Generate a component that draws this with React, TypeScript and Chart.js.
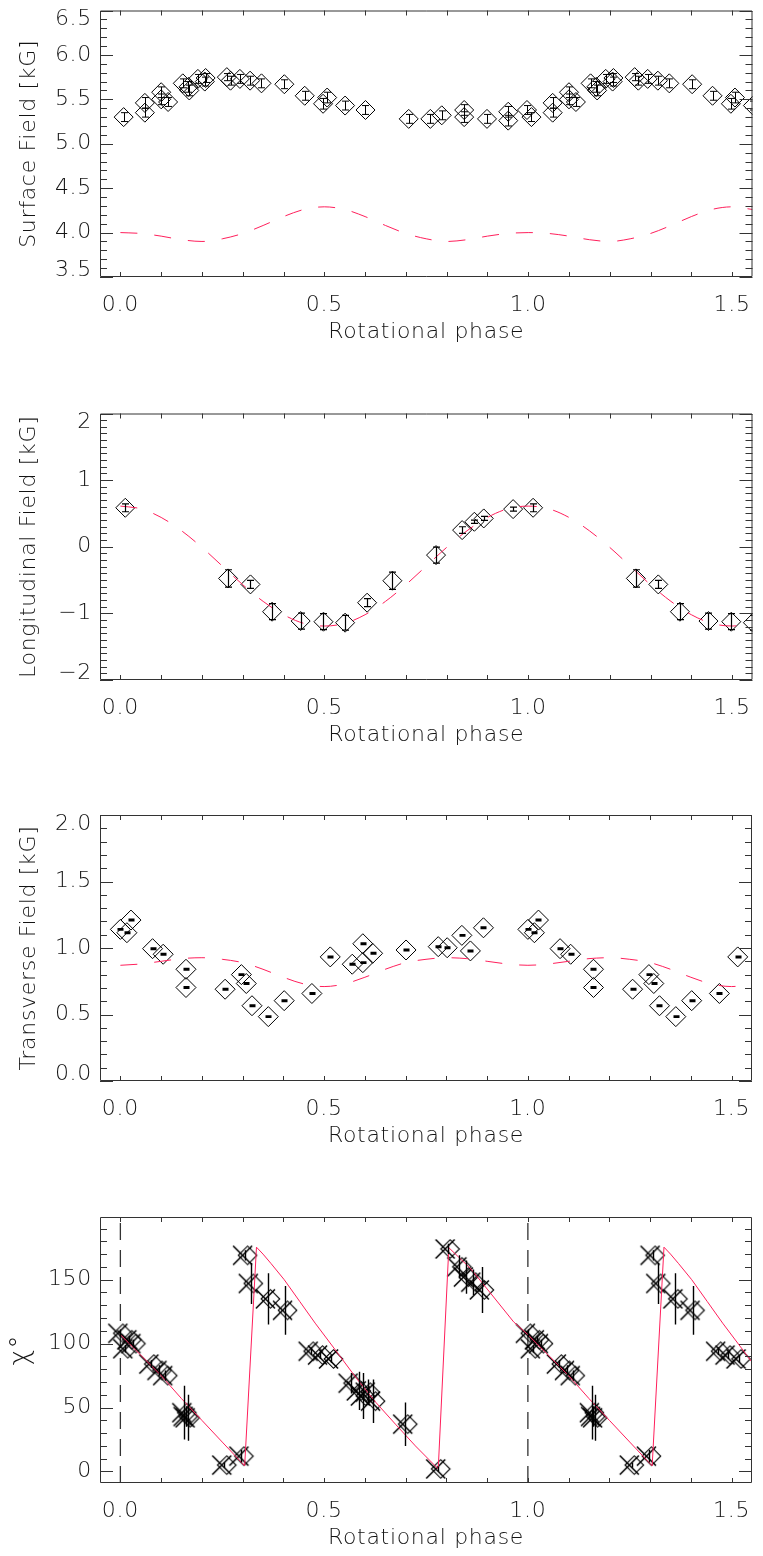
import React, { useEffect, useRef } from "react";
import { Chart, registerables } from "chart.js";

Chart.register(...registerables);

// ---------- style constants ----------
const FONT_FAMILY = "'DejaVu Sans', 'Liberation Sans', sans-serif";
const FONT_WEIGHT = "200";
const TEXT_COLOR = "#141414";
const AXIS_COLOR = "#333333";
const MODEL_COLOR = "#ff1f5b";
const LETTER_SPACING = "0.7px";
const CANVAS_W = 763;
const CANVAS_H = 345;
const PLOT_TOP_PAD = 9;
const Y_AXIS_W = 100;
const X_AXIS_H = 68;
const PANEL_TOPS = [0, 403, 804, 1206];

// ---------- x axis ----------
const PHASE_MIN = -0.05;
const PHASE_MAX = 1.55;
const PHASE_KEEP_MARGIN = 0.01;
const phaseTicks = [0.0, 0.5, 1.0, 1.5];
const phaseShifts = [0, 1];

// ---------- panel 1: surface field ----------
const surfPhase = [0.008, 0.060, 0.060, 0.100, 0.100, 0.117, 0.153, 0.167, 0.169, 0.190, 0.207, 0.209, 0.261, 0.270, 0.293, 0.318, 0.346, 0.402, 0.452, 0.497, 0.507, 0.551, 0.601, 0.707, 0.760, 0.788, 0.843, 0.843, 0.899, 0.951, 0.951, 0.997];
const surfField = [5.30, 5.46, 5.35, 5.58, 5.50, 5.47, 5.68, 5.64, 5.60, 5.73, 5.70, 5.74, 5.75, 5.71, 5.73, 5.71, 5.68, 5.67, 5.54, 5.45, 5.52, 5.43, 5.38, 5.28, 5.28, 5.32, 5.38, 5.30, 5.28, 5.36, 5.26, 5.38];
const surfErr = [0.05, 0.06, 0.05, 0.06, 0.06, 0.05, 0.05, 0.06, 0.06, 0.05, 0.05, 0.05, 0.04, 0.05, 0.05, 0.05, 0.05, 0.05, 0.05, 0.06, 0.06, 0.05, 0.05, 0.05, 0.05, 0.05, 0.06, 0.06, 0.05, 0.06, 0.06, 0.05];
const modelPhase = [0.00, 0.05, 0.10, 0.15, 0.20, 0.25, 0.30, 0.35, 0.40, 0.45, 0.50, 0.55, 0.60, 0.65, 0.70, 0.75, 0.80, 0.85, 0.90, 0.95, 1.00, 1.05, 1.10, 1.15, 1.20, 1.25, 1.30, 1.35, 1.40, 1.45, 1.50, 1.55];
const surfModel = [4.00, 3.99, 3.96, 3.92, 3.90, 3.93, 3.99, 4.08, 4.18, 4.26, 4.29, 4.26, 4.18, 4.08, 3.99, 3.93, 3.90, 3.92, 3.96, 3.99, 4.00, 3.99, 3.96, 3.92, 3.90, 3.93, 3.99, 4.08, 4.18, 4.26, 4.29, 4.26];
const surfTicks = [3.5, 4.0, 4.5, 5.0, 5.5, 6.0, 6.5];

// ---------- panel 2: longitudinal field ----------
const longPhase = [0.012, 0.264, 0.319, 0.372, 0.442, 0.498, 0.551, 0.605, 0.667, 0.774, 0.838, 0.868, 0.891, 0.963];
const longField = [0.585, -0.475, -0.565, -0.975, -1.115, -1.125, -1.14, -0.84, -0.51, -0.125, 0.25, 0.375, 0.425, 0.565];
const longErr = [0.06, 0.13, 0.06, 0.12, 0.12, 0.12, 0.11, 0.06, 0.13, 0.12, 0.05, 0.025, 0.03, 0.03];
const longModel = [0.61, 0.57, 0.44, 0.24, -0.01, -0.29, -0.57, -0.82, -1.02, -1.15, -1.19, -1.15, -1.02, -0.82, -0.57, -0.29, -0.01, 0.24, 0.44, 0.57, 0.61, 0.57, 0.44, 0.24, -0.01, -0.29, -0.57, -0.82, -1.02, -1.15, -1.19, -1.15];
const longTicks = [-2, -1, 0, 1, 2];

// ---------- panel 3: transverse field ----------
const transPhase = [0.000, 0.016, 0.026, 0.079, 0.105, 0.161, 0.161, 0.257, 0.297, 0.309, 0.323, 0.363, 0.402, 0.470, 0.515, 0.569, 0.595, 0.595, 0.619, 0.701, 0.780, 0.802, 0.838, 0.859, 0.891];
const transField = [1.14, 1.115, 1.21, 0.995, 0.953, 0.84, 0.703, 0.69, 0.80, 0.733, 0.566, 0.484, 0.604, 0.658, 0.933, 0.878, 1.032, 0.89, 0.96, 0.985, 1.01, 1.002, 1.095, 0.978, 1.152];
const transErr = [0.005, 0.005, 0.005, 0.005, 0.005, 0.005, 0.005, 0.005, 0.005, 0.005, 0.005, 0.005, 0.005, 0.005, 0.005, 0.005, 0.005, 0.005, 0.005, 0.005, 0.005, 0.005, 0.005, 0.005, 0.005];
const transModel = [0.87, 0.88, 0.90, 0.92, 0.927, 0.915, 0.89, 0.84, 0.78, 0.73, 0.71, 0.73, 0.78, 0.84, 0.89, 0.915, 0.927, 0.92, 0.90, 0.88, 0.87, 0.88, 0.90, 0.92, 0.927, 0.915, 0.89, 0.84, 0.78, 0.73, 0.71, 0.73];
const transTicks = [0.0, 0.5, 1.0, 1.5, 2.0];

// ---------- panel 4: position angle chi ----------
const chiPhase = [0.000, 0.012, 0.022, 0.032, 0.076, 0.096, 0.110, 0.157, 0.160, 0.165, 0.255, 0.297, 0.306, 0.320, 0.362, 0.404, 0.467, 0.490, 0.517, 0.565, 0.585, 0.595, 0.607, 0.620, 0.699, 0.780, 0.803, 0.832, 0.848, 0.866, 0.887];
const chiAngle = [108, 96, 103, 100, 84, 79, 75, 46, 43, 42, 5, 12, 169, 147, 135, 126, 94, 91, 88, 69, 63, 59, 62, 55, 37, 2, 174, 160, 152, 148, 142];
const chiErr = [3, 3, 3, 3, 3, 4, 4, 21, 8, 18, 2, 5, 4, 16, 20, 19, 3, 3, 3, 8, 15, 18, 10, 17, 17, 2, 4, 9, 13, 10, 18];
const chiModelPhase = [0.000, 0.050, 0.100, 0.150, 0.200, 0.250, 0.305, 0.334, 0.350, 0.370, 0.402, 0.440, 0.478, 0.530, 0.579, 0.627, 0.675, 0.724, 0.780, 0.806, 0.860, 0.912, 0.965, 1.000, 1.050, 1.100, 1.150, 1.200, 1.250, 1.305, 1.334, 1.350, 1.370, 1.402, 1.440, 1.478, 1.530, 1.579];
const chiModel = [107, 91, 75, 57, 40, 23, 4.4, 175.4, 170, 162.5, 150, 133, 116, 94, 73, 54, 37, 20, 2, 175, 158.5, 138, 117, 107, 91, 75, 57, 40, 23, 4.4, 175.4, 170, 162.5, 150, 133, 116, 94, 73];
const chiRefPhases = [0, 1];
const chiTicks = [0, 50, 100, 150];
const CHI_MIN = -9;
const CHI_MAX = 199;

// ---------- helpers ----------
type Pt = { x: number; y: number; e: number };

function foldPoints(phase: number[], val: number[], err: number[]): Pt[] {
  const out: Pt[] = [];
  phaseShifts.forEach((s) =>
    phase.forEach((p, i) => {
      const x = p + s;
      if (x >= PHASE_MIN - PHASE_KEEP_MARGIN && x <= PHASE_MAX + PHASE_KEEP_MARGIN) out.push({ x, y: val[i], e: err[i] });
    })
  );
  return out;
}
function curve(phase: number[], val: number[]) {
  return phase.map((p, i) => ({ x: p, y: val[i] }));
}
const fmt1 = (v: number) => v.toFixed(1);
const fmtInt = (v: number) => (v < 0 ? "\u2212" + Math.abs(v) : String(v));

function modelDataset(data: any[], dashed: boolean) {
  return {
    data,
    showLine: true,
    borderColor: MODEL_COLOR,
    borderWidth: 1,
    borderDash: dashed ? [17, 17] : [],
    pointRadius: 0,
    pointHoverRadius: 0,
    cubicInterpolationMode: dashed ? "monotone" : "default",
    tension: 0,
    fill: false,
    clip: 0,
  };
}
function markerDataset(data: any[], style: any, radius: number) {
  return {
    data,
    showLine: false,
    pointStyle: style,
    pointRadius: radius,
    pointHoverRadius: radius,
    pointBorderColor: "#000",
    pointBackgroundColor: "rgba(0,0,0,0)",
    pointBorderWidth: 1,
    clip: 0,
  };
}

function makeChiMarker(): HTMLCanvasElement {
  const c = document.createElement("canvas");
  c.width = 30;
  c.height = 24;
  const g = c.getContext("2d")!;
  const cx = 15;
  const cy = 12;
  g.strokeStyle = "#000";
  g.lineWidth = 1.1;
  const dx = cx + 2.5;
  const r = 9.3;
  g.beginPath();
  g.moveTo(dx - r, cy);
  g.lineTo(dx, cy - r);
  g.lineTo(dx + r, cy);
  g.lineTo(dx, cy + r);
  g.closePath();
  g.stroke();
  const xx = cx - 2.5;
  const h = 9.5;
  g.lineWidth = 1.6;
  g.beginPath();
  g.moveTo(xx - h, cy - h);
  g.lineTo(xx + h, cy + h);
  g.moveTo(xx - h, cy + h);
  g.lineTo(xx + h, cy - h);
  g.stroke();
  return c;
}

type Spec = {
  yMin: number;
  yMax: number;
  yTicks: number[];
  fmt: (v: number) => string;
  minor: number;
  major: number;
  title: string;
  titleSize: number;
  titlePad: number;
  datasets: any[];
  errs: { pts: Pt[]; cap: number; width: number }[];
};

function buildSpec(i: number): Spec {
  if (i === 0) {
    const pts = foldPoints(surfPhase, surfField, surfErr);
    return {
      yMin: 3.5, yMax: 6.5, yTicks: surfTicks, fmt: fmt1, minor: 0.1, major: 0.5,
      title: "Surface Field [kG]", titleSize: 22, titlePad: 16,
      datasets: [modelDataset(curve(modelPhase, surfModel), true), markerDataset(pts, "rectRot", 9.5)],
      errs: [{ pts, cap: 3.5, width: 1 }],
    };
  }
  if (i === 1) {
    const pts = foldPoints(longPhase, longField, longErr);
    return {
      yMin: -2, yMax: 2, yTicks: longTicks, fmt: fmtInt, minor: 0.1, major: 1,
      title: "Longitudinal Field [kG]", titleSize: 22, titlePad: 16,
      datasets: [modelDataset(curve(modelPhase, longModel), true), markerDataset(pts, "rectRot", 9.5)],
      errs: [{ pts, cap: 3.5, width: 1.2 }],
    };
  }
  if (i === 2) {
    const pts = foldPoints(transPhase, transField, transErr);
    return {
      yMin: 0, yMax: 2, yTicks: transTicks, fmt: fmt1, minor: 0.1, major: 0.5,
      title: "Transverse Field [kG]", titleSize: 22, titlePad: 16,
      datasets: [modelDataset(curve(modelPhase, transModel), true), markerDataset(pts, "rectRot", 10)],
      errs: [{ pts, cap: 3, width: 1.6 }],
    };
  }
  const pts = foldPoints(chiPhase, chiAngle, chiErr);
  const refs = chiRefPhases.map((p) => ({
    data: [{ x: p, y: CHI_MIN }, { x: p, y: CHI_MAX }],
    showLine: true,
    borderColor: "#333",
    borderWidth: 1.3,
    borderDash: [17, 10],
    pointRadius: 0,
    pointHoverRadius: 0,
    fill: false,
    clip: 0,
  }));
  return {
    yMin: CHI_MIN, yMax: CHI_MAX, yTicks: chiTicks, fmt: fmtInt, minor: 10, major: 50,
    title: "\u03C7\u00B0", titleSize: 27, titlePad: 5,
    datasets: [modelDataset(curve(chiModelPhase, chiModel), false), markerDataset(pts, makeChiMarker(), 10), ...refs],
    errs: [{ pts, cap: 0, width: 1.4 }],
  };
}

function makeConfig(spec: Spec): any {
  const font = { family: FONT_FAMILY, size: 22, weight: FONT_WEIGHT };
  const spacingPlugin = {
    id: "letterSpacing",
    beforeDraw(chart: any) {
      (chart.ctx as any).letterSpacing = LETTER_SPACING;
    },
  };
  const axesPlugin = {
    id: "idlAxes",
    afterDraw(chart: any) {
      const { ctx, chartArea: a } = chart;
      const xs = chart.scales.x;
      const ys = chart.scales.y;
      ctx.save();
      ctx.strokeStyle = AXIS_COLOR;
      ctx.lineWidth = 1;
      ctx.beginPath();
      ctx.rect(a.left + 0.5, a.top + 0.5, a.right - a.left - 1, a.bottom - a.top - 1);
      const k0 = Math.ceil(PHASE_MIN / 0.1 - 1e-9);
      const k1 = Math.floor(PHASE_MAX / 0.1 + 1e-9);
      for (let k = k0; k <= k1; k++) {
        const px = Math.round(xs.getPixelForValue(k * 0.1)) + 0.5;
        ctx.moveTo(px, a.top);
        ctx.lineTo(px, a.top + 5);
        ctx.moveTo(px, a.bottom);
        ctx.lineTo(px, a.bottom - 5);
      }
      const n0 = Math.ceil(spec.yMin / spec.minor - 1e-9);
      const n1 = Math.floor(spec.yMax / spec.minor + 1e-9);
      for (let k = n0; k <= n1; k++) {
        const v = k * spec.minor;
        const q = v / spec.major;
        const len = Math.abs(q - Math.round(q)) < 1e-6 ? 13 : 7;
        const py = Math.round(ys.getPixelForValue(v)) + 0.5;
        ctx.moveTo(a.left, py);
        ctx.lineTo(a.left + len, py);
        ctx.moveTo(a.right, py);
        ctx.lineTo(a.right - len, py);
      }
      ctx.stroke();
      ctx.fillStyle = TEXT_COLOR;
      ctx.font = `${FONT_WEIGHT} 22px ${FONT_FAMILY}`;
      (ctx as any).letterSpacing = LETTER_SPACING;
      ctx.textAlign = "right";
      ctx.textBaseline = "middle";
      for (const v of spec.yTicks) {
        let py = ys.getPixelForValue(v);
        if (py - a.top < 3) py += 9;
        else if (a.bottom - py < 3) py -= 7;
        ctx.fillText(spec.fmt(v), a.left - 8, py);
      }
      ctx.restore();
    },
  };
  const errPlugin = {
    id: "errBars",
    afterDatasetsDraw(chart: any) {
      const { ctx, chartArea: a } = chart;
      const xs = chart.scales.x;
      const ys = chart.scales.y;
      ctx.save();
      ctx.beginPath();
      ctx.rect(a.left, a.top, a.right - a.left, a.bottom - a.top);
      ctx.clip();
      ctx.strokeStyle = "#000";
      for (const set of spec.errs) {
        ctx.lineWidth = set.width;
        ctx.beginPath();
        for (const p of set.pts) {
          const px = Math.round(xs.getPixelForValue(p.x)) + 0.5;
          const y1 = ys.getPixelForValue(p.y - p.e);
          const y2 = ys.getPixelForValue(p.y + p.e);
          ctx.moveTo(px, y1);
          ctx.lineTo(px, y2);
          if (set.cap > 0) {
            ctx.moveTo(px - set.cap, y1);
            ctx.lineTo(px + set.cap, y1);
            ctx.moveTo(px - set.cap, y2);
            ctx.lineTo(px + set.cap, y2);
          }
        }
        ctx.stroke();
      }
      ctx.restore();
    },
  };
  return {
    type: "scatter",
    data: { datasets: spec.datasets },
    plugins: [spacingPlugin, errPlugin, axesPlugin],
    options: {
      animation: false,
      responsive: false,
      maintainAspectRatio: false,
      events: [],
      layout: { padding: { top: PLOT_TOP_PAD, right: 1, left: 0, bottom: 0 } },
      plugins: { legend: { display: false }, tooltip: { enabled: false } },
      scales: {
        x: {
          type: "linear",
          min: PHASE_MIN,
          max: PHASE_MAX,
          afterBuildTicks: (s: any) => {
            s.ticks = phaseTicks.map((v) => ({ value: v }));
          },
          afterFit: (s: any) => {
            s.height = X_AXIS_H;
            s.paddingLeft = 0;
            s.paddingRight = 0;
          },
          ticks: {
            padding: 15,
            color: TEXT_COLOR,
            font,
            maxRotation: 0,
            autoSkip: false,
            callback: (v: any) => Number(v).toFixed(1),
          },
          grid: { display: false, drawTicks: false },
          border: { display: false },
          title: { display: true, text: "Rotational phase", color: TEXT_COLOR, font, padding: { top: 0, bottom: 0 } },
        },
        y: {
          type: "linear",
          min: spec.yMin,
          max: spec.yMax,
          afterFit: (s: any) => {
            s.width = Y_AXIS_W;
            s.paddingTop = 0;
            s.paddingBottom = 0;
          },
          ticks: { display: false },
          grid: { display: false, drawTicks: false },
          border: { display: false },
          title: {
            display: true,
            text: spec.title,
            color: TEXT_COLOR,
            font: { family: FONT_FAMILY, size: spec.titleSize, weight: FONT_WEIGHT },
            padding: { top: spec.titlePad, bottom: 0 },
          },
        },
      },
    },
  };
}

function Panel({ index, top }: { index: number; top: number }) {
  const ref = useRef<HTMLCanvasElement>(null);
  useEffect(() => {
    const chart = new Chart(ref.current!, makeConfig(buildSpec(index)));
    return () => chart.destroy();
  }, [index]);
  return (
    <canvas
      ref={ref}
      width={CANVAS_W}
      height={CANVAS_H}
      style={{ position: "absolute", left: 0, top, width: CANVAS_W, height: CANVAS_H }}
    />
  );
}

export default function App() {
  return (
    <div style={{ position: "absolute", left: 0, top: 0, width: 763, height: 1556, background: "#fff" }}>
      {PANEL_TOPS.map((t, i) => (
        <Panel key={i} index={i} top={t} />
      ))}
    </div>
  );
}
